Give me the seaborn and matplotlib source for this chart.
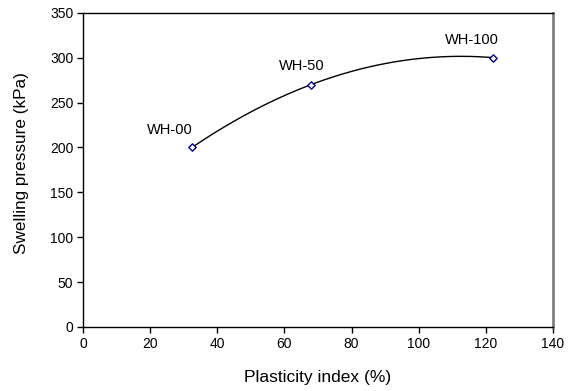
import numpy as np
import pandas as pd
import seaborn as sns
import matplotlib.pyplot as plt

# data
samples = ["WH-00", "WH-50", "WH-100"]
plasticity_index = [32.5, 68.0, 122.0]
swelling_pressure = [200, 270, 300]

# label offsets in pixels (dx of label centre, dy above point)
label_dx = [-22, -10, -21]
label_dy = [17, 19, 18]

df = pd.DataFrame({"sample": samples, "pi": plasticity_index, "sp": swelling_pressure})

sns.set_theme(style="white")
plt.rcParams["font.family"] = ["Liberation Sans", "DejaVu Sans"]

fig = plt.figure(figsize=(5.71, 3.91), dpi=100)
ax = fig.add_axes([83 / 571, 1 - 327 / 391, 470 / 571, (327 - 12.7) / 391])

# smooth curve through the three points (2nd order fit)
coef = np.polyfit(df["pi"], df["sp"], 2)
xs = np.linspace(df["pi"].min(), df["pi"].max(), 200)
sns.lineplot(x=xs, y=np.polyval(coef, xs), ax=ax, color="black", linewidth=1.0)
sns.scatterplot(data=df, x="pi", y="sp", ax=ax, marker="D", s=14,
                facecolor="white", edgecolor="#000080", linewidth=1.0, zorder=3)

px = 72 / fig.dpi
for s, x, y, dx, dy in zip(samples, plasticity_index, swelling_pressure, label_dx, label_dy):
    ax.annotate(s, (x, y), xytext=(dx * px, dy * px), textcoords="offset points",
                ha="center", va="center", fontsize=10.5, color="black")

ax.set_xlim(0, 140)
ax.set_ylim(0, 350)
ax.set_xticks(range(0, 141, 20))
ax.set_yticks(range(0, 351, 50))
ax.tick_params(axis="both", direction="out", length=4, width=1, color="black",
               labelsize=10, labelcolor="black", pad=3)
ax.tick_params(axis="x", bottom=True)
ax.tick_params(axis="y", left=True)

for side in ["left", "bottom", "top"]:
    ax.spines[side].set_color("black")
    ax.spines[side].set_linewidth(1.0)
ax.spines["right"].set_color("#808080")
ax.spines["right"].set_linewidth(2.0)

ax.set_xlabel("Plasticity index (%)", fontsize=12.5, color="black")
ax.set_ylabel("Swelling pressure (kPa)", fontsize=12.3, color="black")
ax.xaxis.set_label_coords(0.5, (327 - 370) / 314.3)
ax.yaxis.set_label_coords((29 - 83) / 470, 0.523)

fig.savefig("out.png", dpi=100)
